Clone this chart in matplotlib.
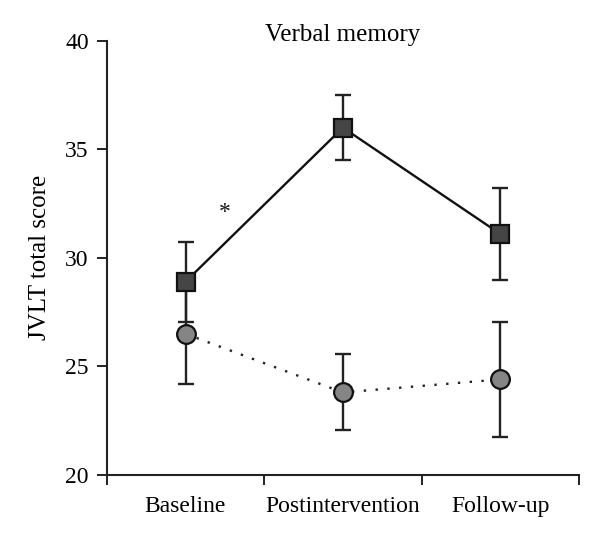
import matplotlib
matplotlib.use("Agg")
import matplotlib.pyplot as plt
import numpy as np

categories = ["Baseline", "Postintervention", "Follow-up"]
intervention_mean = [28.9, 36.0, 31.1]
intervention_err = [1.85, 1.5, 2.1]
control_mean = [26.5, 23.8, 24.4]
control_err = [2.3, 1.75, 2.65]
yticks = [20, 25, 30, 35, 40]

plt.rcParams['font.family'] = ['Liberation Serif', 'DejaVu Serif']

fig = plt.figure(figsize=(6.0, 5.44), dpi=100)
ax = fig.add_axes([0.178, 0.127, 0.787, 0.798])

x = np.arange(len(categories)) + 0.5

ax.errorbar(x, control_mean, yerr=control_err, fmt='none', ecolor='#222222',
            elinewidth=1.7, capsize=5.5, capthick=1.7, zorder=2)
ax.plot(x, control_mean, linestyle=(0, (1, 4)), color='#222222', linewidth=1.7,
        zorder=3)
ax.plot(x, control_mean, linestyle='none', marker='o', markersize=13.5,
        markerfacecolor='#858585', markeredgecolor='#111111', markeredgewidth=1.6,
        zorder=4)

ax.errorbar(x, intervention_mean, yerr=intervention_err, fmt='none', ecolor='#222222',
            elinewidth=1.7, capsize=5.5, capthick=1.7, zorder=5)
ax.plot(x, intervention_mean, linestyle='-', color='#111111', linewidth=1.7, zorder=6)
ax.plot(x, intervention_mean, linestyle='none', marker='s', markersize=13.5,
        markerfacecolor='#454545', markeredgecolor='#111111', markeredgewidth=1.6,
        zorder=7)

ax.text(0.75, 32.1, '*', ha='center', va='center', fontsize=17, color='#111111')

ax.set_xlim(0, 3)
ax.set_ylim(20, 40)
ax.set_yticks(yticks)
ax.set_yticklabels([str(t) for t in yticks], fontsize=17)
ax.set_xticks([0, 1, 2, 3])
ax.set_xticklabels([])
ax.set_xticks(x, minor=True)
ax.set_xticklabels(categories, minor=True, fontsize=17)
ax.tick_params(axis='x', which='minor', length=0, pad=15)
ax.tick_params(axis='x', which='major', length=7, width=1.4, direction='out', color='#222222')
ax.tick_params(axis='y', length=7, width=1.4, direction='out', color='#222222', pad=6)

for s in ['top', 'right']:
    ax.spines[s].set_visible(False)
for s in ['left', 'bottom']:
    ax.spines[s].set_linewidth(1.5)
    ax.spines[s].set_color('#222222')

ax.set_ylabel('JVLT total score', fontsize=18, labelpad=10)
ax.set_title('Verbal memory', fontsize=18, pad=0, y=1.0)

fig.savefig('out.png', dpi=100)
